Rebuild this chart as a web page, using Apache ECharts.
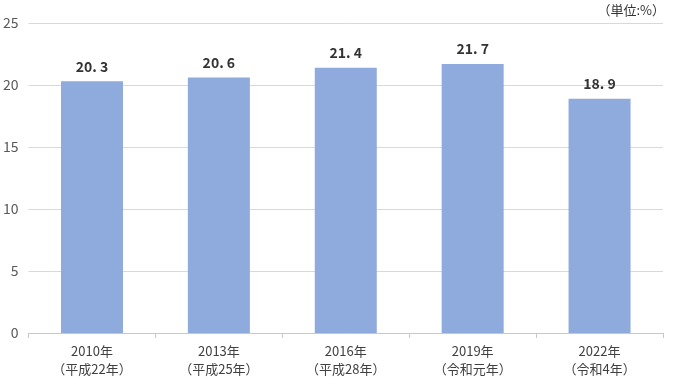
<!DOCTYPE html>
<html><head><meta charset="utf-8">
<script src="https://cdn.jsdelivr.net/npm/echarts@6/dist/echarts.min.js"></script>
<style>html,body{margin:0;padding:0;background:#fff}#c{width:675px;height:384px}</style>
</head><body><div id="c"></div>
<script>
const categories = ['2010年\n（平成22年）','2013年\n（平成25年）','2016年\n（平成28年）','2019年\n（令和元年）','2022年\n（令和4年）'];
const values = [20.3, 20.6, 21.4, 21.7, 18.9];
const yTicks = [0, 5, 10, 15, 20, 25];
const unitLabel = '（単位:%）';
const font = '"Noto Sans CJK JP", sans-serif';
const chart = echarts.init(document.getElementById('c'));
chart.setOption({
  animation: false,
  graphic: [{type:'text', right: 10, top: 4, style:{text: unitLabel, font: '13px ' + font, fill:'#333'}}],
  grid: {left: 27, right: 12, top: 23, bottom: 51},
  xAxis: {
    type: 'category', data: categories,
    axisLine: {lineStyle: {color: '#c8c8c8'}},
    axisTick: {show: true, alignWithLabel: false, length: 5, lineStyle: {color: '#c8c8c8'}},
    axisLabel: {color: '#404040', fontFamily: font, fontSize: 13, lineHeight: 18, margin: 9}
  },
  yAxis: {
    type: 'value', min: yTicks[0], max: yTicks[yTicks.length-1], interval: 5,
    axisLine: {show: false}, axisTick: {show: false},
    splitLine: {lineStyle: {color: '#d9d9d9'}},
    axisLabel: {color: '#595959', fontFamily: font, fontSize: 14, margin: 10}
  },
  series: [{
    type: 'bar', data: values, barWidth: 62,
    itemStyle: {color: '#8faadc'},
    label: {show: true, position: 'top', distance: 8, color: '#333', fontFamily: font, fontSize: 14, fontWeight: 'bold',
      formatter: p => p.value.toFixed(1).replace('.', '. ')}
  }]
});
</script></body></html>
